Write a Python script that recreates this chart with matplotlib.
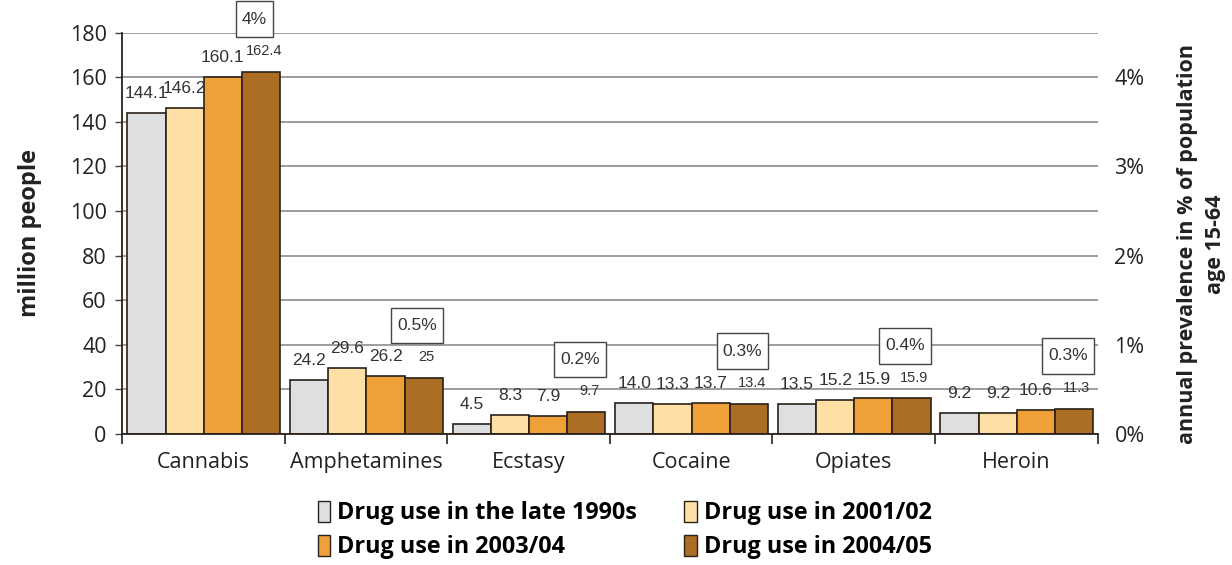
import matplotlib
matplotlib.use("Agg")
import matplotlib.pyplot as plt
import numpy as np
from matplotlib.patches import Patch
from matplotlib.path import Path

# Drug use estimates (million people) by substance and period
drugs = ["Cannabis", "Amphetamines", "Ecstasy", "Cocaine", "Opiates", "Heroin"]
periods = [
    "Drug use in the late 1990s",
    "Drug use in 2001/02",
    "Drug use in 2003/04",
    "Drug use in 2004/05",
]
late_1990s = [144.1, 24.2, 4.5, 14.0, 13.5, 9.2]
use_2001_02 = [146.2, 29.6, 8.3, 13.3, 15.2, 9.2]
use_2003_04 = [160.1, 26.2, 7.9, 13.7, 15.9, 10.6]
use_2004_05 = [162.4, 25, 9.7, 13.4, 15.9, 11.3]
value_text_2004_05 = ["162.4", "25", "9.7", "13.4", "15.9", "11.3"]
prevalence = ["4%", "0.5%", "0.2%", "0.3%", "0.4%", "0.3%"]

series = [late_1990s, use_2001_02, use_2003_04, use_2004_05]
colors = ["#dedfe1", "#fee0a6", "#f0a038", "#ab6e24"]
edge = "#2a2119"
txt = "#222222"


def tall_box(x0, y0, width, height, mutation_size):
    # rectangle with more vertical than horizontal padding
    px, py = 0.35 * mutation_size, 0.6 * mutation_size
    x0, y0 = x0 - px, y0 - py
    x1, y1 = x0 + width + 2 * px, y0 + height + 2 * py
    return Path([(x0, y0), (x1, y0), (x1, y1), (x0, y1), (x0, y0)],
                closed=True)


fig = plt.figure(figsize=(12.32, 5.65), dpi=100)
ax = fig.add_axes([0.099, 0.232, 0.792, 0.71])

x = np.arange(len(drugs))
w = 0.235
offsets = (np.arange(4) - 1.5) * w + 0.003

for k, vals in enumerate(series):
    bars = ax.bar(x + offsets[k], vals, width=w, color=colors[k],
                  edgecolor=edge, linewidth=1.2, zorder=2)
    for i, b in enumerate(bars):
        top = b.get_height()
        cx = b.get_x() + b.get_width() / 2
        if k < 3:
            ax.annotate(f"{vals[i]:.1f}", (cx, top), xytext=(0, 14),
                        textcoords="offset points", ha="center", va="center",
                        fontsize=12.5, family="Liberation Sans", color="#333333")
        else:
            ax.annotate(value_text_2004_05[i], (cx, top), xytext=(2, 15),
                        textcoords="offset points", ha="center", va="center",
                        fontsize=10.5, family="Liberation Sans", color="#333333")
            ax.annotate(prevalence[i], (cx - 0.04, top), xytext=(0, 38),
                        textcoords="offset points", ha="center", va="center",
                        fontsize=12.5, family="Liberation Sans", color="#333333",
                        annotation_clip=False, zorder=5,
                        bbox=dict(boxstyle=tall_box, fc="white",
                                  ec="#444444", lw=1))

ax.set_xlim(-0.5, len(drugs) - 0.5)
ax.set_ylim(0, 180)
ax.set_yticks(np.arange(0, 181, 20))
ax.yaxis.grid(True, color="#8c8c8c", linewidth=1.2)
ax.set_axisbelow(True)

# category boundaries as ticks, names on minor ticks
ax.set_xticks(np.arange(-0.5, len(drugs), 1))
ax.set_xticklabels([])
ax.set_xticks(x, minor=True)
ax.set_xticklabels(drugs, minor=True, fontsize=15.5, family="Open Sans",
                   color=txt)
ax.tick_params(axis="x", which="major", length=7, width=1.2, color=edge,
               direction="out")
ax.tick_params(axis="x", which="minor", length=0, pad=13)
ax.tick_params(axis="y", length=5, width=1, color="#444444", pad=6)
for lbl in ax.get_yticklabels():
    lbl.set_fontsize(15.5)
    lbl.set_family("Open Sans")
    lbl.set_color(txt)

for s in ["top", "right"]:
    ax.spines[s].set_visible(False)
ax.spines["left"].set_color(edge)
ax.spines["left"].set_linewidth(1.3)
ax.spines["bottom"].set_color(edge)
ax.spines["bottom"].set_linewidth(1.3)

ax.set_ylabel("million people", fontsize=17, fontweight="bold",
              family="Open Sans", color=txt, labelpad=20)

# right axis: prevalence, 1% = 40 million
ax2 = ax.twinx()
ax2.set_ylim(0, 4.5)
ax2.set_yticks([0, 1, 2, 3, 4])
ax2.set_yticklabels([f"{v}%" for v in range(5)], fontsize=15.5,
                    family="Open Sans", color=txt)
ax2.tick_params(axis="y", length=0, pad=12)
for s in ax2.spines.values():
    s.set_visible(False)
ax2.set_ylabel("annual prevalence in % of population\nage 15-64", fontsize=15.5,
               fontweight="bold", family="Open Sans", color=txt,
               linespacing=1.45)
ax2.yaxis.set_label_coords(1.081, 0.473)

# row-wise legend order
order = [0, 2, 1, 3]
handles = [Patch(facecolor=colors[j], edgecolor=edge, linewidth=1) for j in order]
fig.legend(handles, [periods[j] for j in order], loc="center",
           bbox_to_anchor=(0.507, 0.062), ncol=2, frameon=False,
           handlelength=0.55, handleheight=1.0, handletextpad=0.3,
           columnspacing=2.0, labelspacing=0.4,
           prop=dict(family="Open Sans", weight="bold", size=16.8))

fig.savefig("out.png", dpi=100)
